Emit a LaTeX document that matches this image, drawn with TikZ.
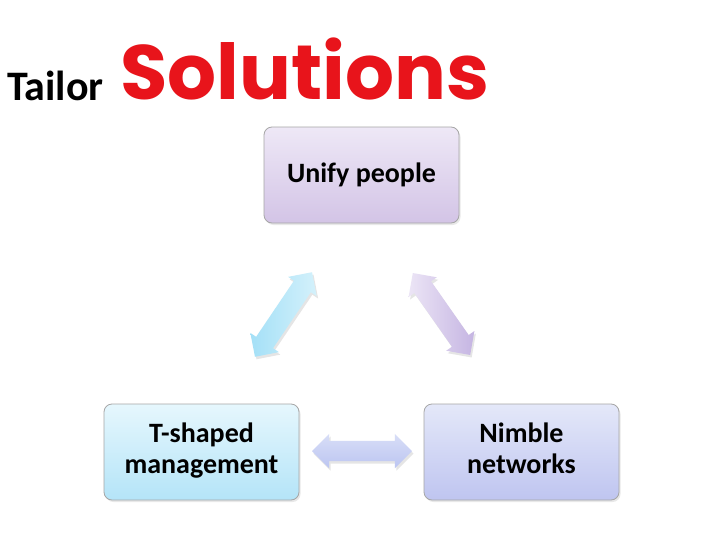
\documentclass[tikz,border=0pt]{standalone}
\usepackage{fontspec}
\setmainfont{Carlito}
\newfontfamily\solfont{Poppins}
\usetikzlibrary{shapes.arrows,shadows}
\definecolor{uTop}{HTML}{EEE8F6}
\definecolor{uBot}{HTML}{D3C4E6}
\definecolor{tTop}{HTML}{E6F7FD}
\definecolor{tBot}{HTML}{B4E4F8}
\definecolor{nTop}{HTML}{E4E8F9}
\definecolor{nBot}{HTML}{BFC5F0}
\definecolor{boxline}{HTML}{A6A6A6}
\definecolor{solred}{HTML}{E8141B}
\definecolor{aCdark}{HTML}{A4E0F7}
\definecolor{aClight}{HTML}{D4F1FB}
\definecolor{aVlight}{HTML}{ECE5F6}
\definecolor{aVdark}{HTML}{C5B5E2}
\definecolor{aBtop}{HTML}{D8DEF7}
\definecolor{aBbot}{HTML}{BCC5F1}
\tikzset{
  slidebox/.style={draw=boxline, line width=0.8pt, rounded corners=8pt,
    minimum width=195pt, minimum height=96pt, align=center,
    font=\bfseries\fontsize{28}{31}\selectfont,
    drop shadow={opacity=0.18, shadow xshift=1.5pt, shadow yshift=-2pt}},
  blockarrow/.style={double arrow, draw=none, inner xsep=0pt, inner ysep=10pt,
    minimum width=31pt, double arrow head extend=7pt, double arrow tip angle=90,
    drop shadow={opacity=0.2, shadow xshift=1.5pt, shadow yshift=-2.5pt}}
}
\begin{document}
\begin{tikzpicture}[x=1pt,y=-1pt]
\useasboundingbox (0,0) rectangle (728,546);
\fill[white] (0,0) rectangle (728,546);
% title
\node[anchor=base west, inner sep=0pt, font=\bfseries\fontsize{42}{46}\selectfont] (tailor) at (7,100) {Tailor};
\node[anchor=base west, inner sep=0pt, text=solred, font=\solfont\bfseries\fontsize{77}{80}\selectfont] (sol) at (120,99) {Solutions};
% boxes
\node[slidebox, top color=uTop, bottom color=uBot] (unify) at (361.5,175) {Unify people};
\node[slidebox, top color=tTop, bottom color=tBot] (tshape) at (201.5,452) {\strut T-shaped\\\strut management};
\node[slidebox, top color=nTop, bottom color=nBot] (nimble) at (521.5,452) {\strut Nimble\\\strut networks};
% arrows
\node[blockarrow, minimum height=102pt, rotate=56,
  left color=aCdark, right color=aClight] (a1) at (283.5,314.5) {};
\node[blockarrow, minimum height=100pt, rotate=-55,
  left color=aVlight, right color=aVdark] (a2) at (441.5,314) {};
\node[blockarrow, minimum height=100pt,
  top color=aBtop, bottom color=aBbot] (a3) at (362,451) {};
\end{tikzpicture}
\end{document}
